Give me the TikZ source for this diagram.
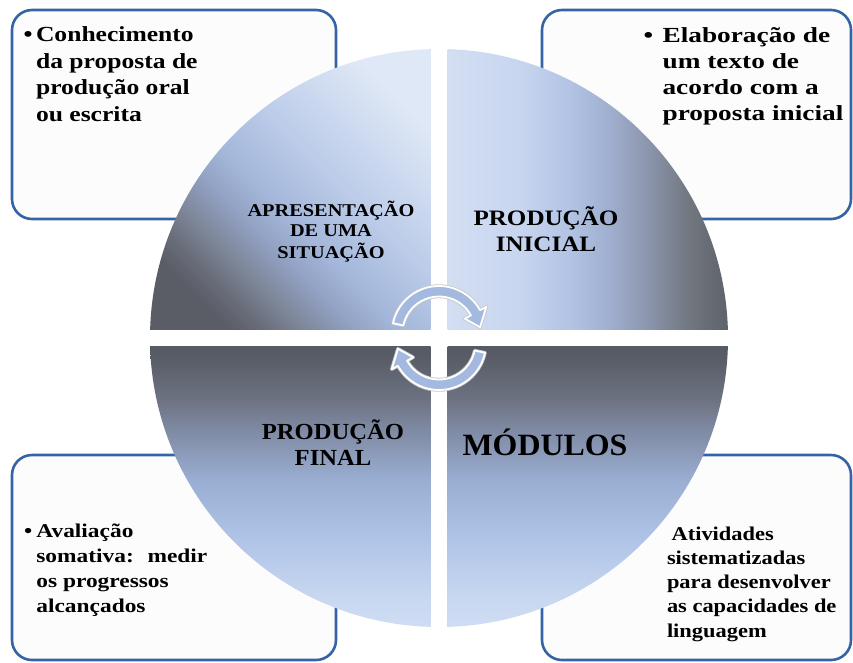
\documentclass[tikz,border=0pt]{standalone}
\usepackage{fontspec}
\setmainfont{Liberation Serif}
\usepackage{graphicx}
\usetikzlibrary{shadings}
\definecolor{boxblue}{HTML}{3464A6}
\definecolor{boxfill}{HTML}{FCFCFC}
\definecolor{arrowblue}{HTML}{A3B9DF}
% top-left quadrant (diagonal)
\definecolor{tlA}{HTML}{5A5D66}
\definecolor{tlB}{HTML}{686C78}
\definecolor{tlC}{HTML}{7D8598}
\definecolor{tlD}{HTML}{909FBF}
\definecolor{tlE}{HTML}{A3B6D9}
\definecolor{tlF}{HTML}{BCCCE9}
\definecolor{tlG}{HTML}{DFE8F6}
% top-right quadrant (horizontal)
\definecolor{trA}{HTML}{D3DEF2}
\definecolor{trB}{HTML}{C7D5EF}
\definecolor{trC}{HTML}{B3C4E4}
\definecolor{trD}{HTML}{A0AFCF}
\definecolor{trE}{HTML}{8A94AB}
\definecolor{trF}{HTML}{71767F}
\definecolor{trG}{HTML}{5C6069}
% bottom quadrants (vertical)
\definecolor{bA}{HTML}{D0DEF3}
\definecolor{bB}{HTML}{C8D8F0}
\definecolor{bC}{HTML}{B0C4E8}
\definecolor{bD}{HTML}{9AAED3}
\definecolor{bE}{HTML}{7F8AA3}
\definecolor{bF}{HTML}{6D7382}
\definecolor{bG}{HTML}{575B65}
\pgfdeclarehorizontalshading{tlsh}{100bp}{color(0bp)=(tlA); color(25bp)=(tlA); color(29bp)=(tlB); color(34bp)=(tlC); color(40bp)=(tlD); color(46bp)=(tlE); color(57bp)=(tlF); color(75bp)=(tlG); color(100bp)=(tlG)}
\pgfdeclarehorizontalshading{trsh}{100bp}{color(0bp)=(trA); color(25bp)=(trA); color(38bp)=(trB); color(46bp)=(trC); color(53.5bp)=(trD); color(60.5bp)=(trE); color(67.5bp)=(trF); color(75bp)=(trG); color(100bp)=(trG)}
\pgfdeclareverticalshading{bsh}{100bp}{color(0bp)=(bA); color(25bp)=(bA); color(30.6bp)=(bB); color(41.1bp)=(bC); color(51.6bp)=(bD); color(60.4bp)=(bE); color(65.6bp)=(bF); color(73.5bp)=(bG); color(75bp)=(bG); color(100bp)=(bG)}
\begin{document}
\begin{tikzpicture}[x=1pt,y=-1pt,
  box/.style={draw=boxblue, line width=2.6pt, rounded corners=20pt, fill=boxfill, inner sep=0pt, outer sep=0pt},
  txt/.style={inner sep=0pt, outer sep=0pt, text=black, font=\bfseries},
  arrowshape/.style={fill=arrowblue, draw=white, line width=1.8pt, line join=round,
     preaction={draw=black!22, line width=3.4pt, line join=round}},
]
\useasboundingbox[fill=white] (0,0) rectangle (853,662);

% boxes
\node[box, minimum width=324pt, minimum height=209pt] (boxTL) at (174,114.5) {};
\node[box, minimum width=309pt, minimum height=209pt] (boxTR) at (696.5,114.5) {};
\node[box, minimum width=324pt, minimum height=205pt] (boxBL) at (174,557.5) {};
\node[box, minimum width=309pt, minimum height=205pt] (boxBR) at (696.5,557.5) {};

% circle quadrants
\coordinate (ctr) at (439,338);
\begin{scope}
\clip (ctr) circle (289);
\shade[shading=tlsh, shading angle=45] (145,45) rectangle (430.5,329.5);
\shade[shading=trsh] (447.5,45) rectangle (732,329.5);
\shade[shading=bsh] (145,346.5) rectangle (430.5,632);
\shade[shading=bsh] (447.5,346.5) rectangle (732,632);
\end{scope}

% cycle arrows
\begin{scope}[shift={(439,333)}]
\path[arrowshape] (-168:47) arc[start angle=-168, end angle=-29, radius=47] -- (-29:54) -- (-8:41.5) -- (-29:29.5) -- (-29:36.5) arc[start angle=-29, end angle=-168, radius=36.5] -- cycle;
\end{scope}
\begin{scope}[shift={(439,343)}, rotate=180]
\path[arrowshape] (-168:47) arc[start angle=-168, end angle=-29, radius=47] -- (-29:54) -- (-8:41.5) -- (-29:29.5) -- (-29:36.5) arc[start angle=-29, end angle=-168, radius=36.5] -- cycle;
\end{scope}

% quadrant labels
\node[txt, anchor=base] (qTL) at (331,216.7) {\fontsize{18}{20}\selectfont\scalebox{1.13}[1]{\begin{tabular}[t]{@{}c@{}}APRESENTAÇÃO\\DE UMA\\SITUAÇÃO\end{tabular}}};
\node[txt, anchor=base] (qTR) at (546,225.7) {\fontsize{22}{26}\selectfont\scalebox{1.14}[1]{\begin{tabular}[t]{@{}c@{}}PRODUÇÃO\\INICIAL\end{tabular}}};
\node[txt, anchor=base] (qBL) at (333,439.5) {\fontsize{23}{26}\selectfont\scalebox{1.07}[1]{\begin{tabular}[t]{@{}c@{}}PRODUÇÃO\\FINAL\end{tabular}}};
\node[txt, anchor=base] (qBR) at (545,455) {\fontsize{31}{36}\selectfont\scalebox{1.03}[1]{MÓDULOS}};

% box texts
\node[txt, anchor=base west] (tTL) at (23.5,41.5) {\fontsize{21.5}{26.5}\selectfont\scalebox{1.19}[1]{\begin{tabular}[t]{@{}l@{\hspace{3pt}}l@{}}•&Conhecimento\\ &da proposta de\\ &produção oral\\ &ou escrita\end{tabular}}};
\node[txt, anchor=base west] (tTR) at (643.5,42) {\fontsize{21.5}{26}\selectfont\scalebox{1.27}[1]{\begin{tabular}[t]{@{}l@{\hspace{7.5pt}}l@{}}•&Elaboração de\\ &um texto de\\ &acordo com a\\ &proposta inicial\end{tabular}}};
\node[txt, anchor=base west] (tBL) at (24,537) {\fontsize{19.5}{25.2}\selectfont\scalebox{1.2}[1]{\begin{tabular}[t]{@{}l@{\hspace{3.5pt}}l@{}}•&Avaliação\\ &somativa:~ medir\\ &os progressos\\ &alcançados\end{tabular}}};
\node[txt, anchor=base west] (tBR) at (667,540) {\fontsize{19.5}{24.3}\selectfont\scalebox{1.15}[1]{\begin{tabular}[t]{@{}l@{}}\hspace{4pt}Atividades\\sistematizadas\\para desenvolver\\as capacidades de\\linguagem\end{tabular}}};
\end{tikzpicture}
\end{document}
